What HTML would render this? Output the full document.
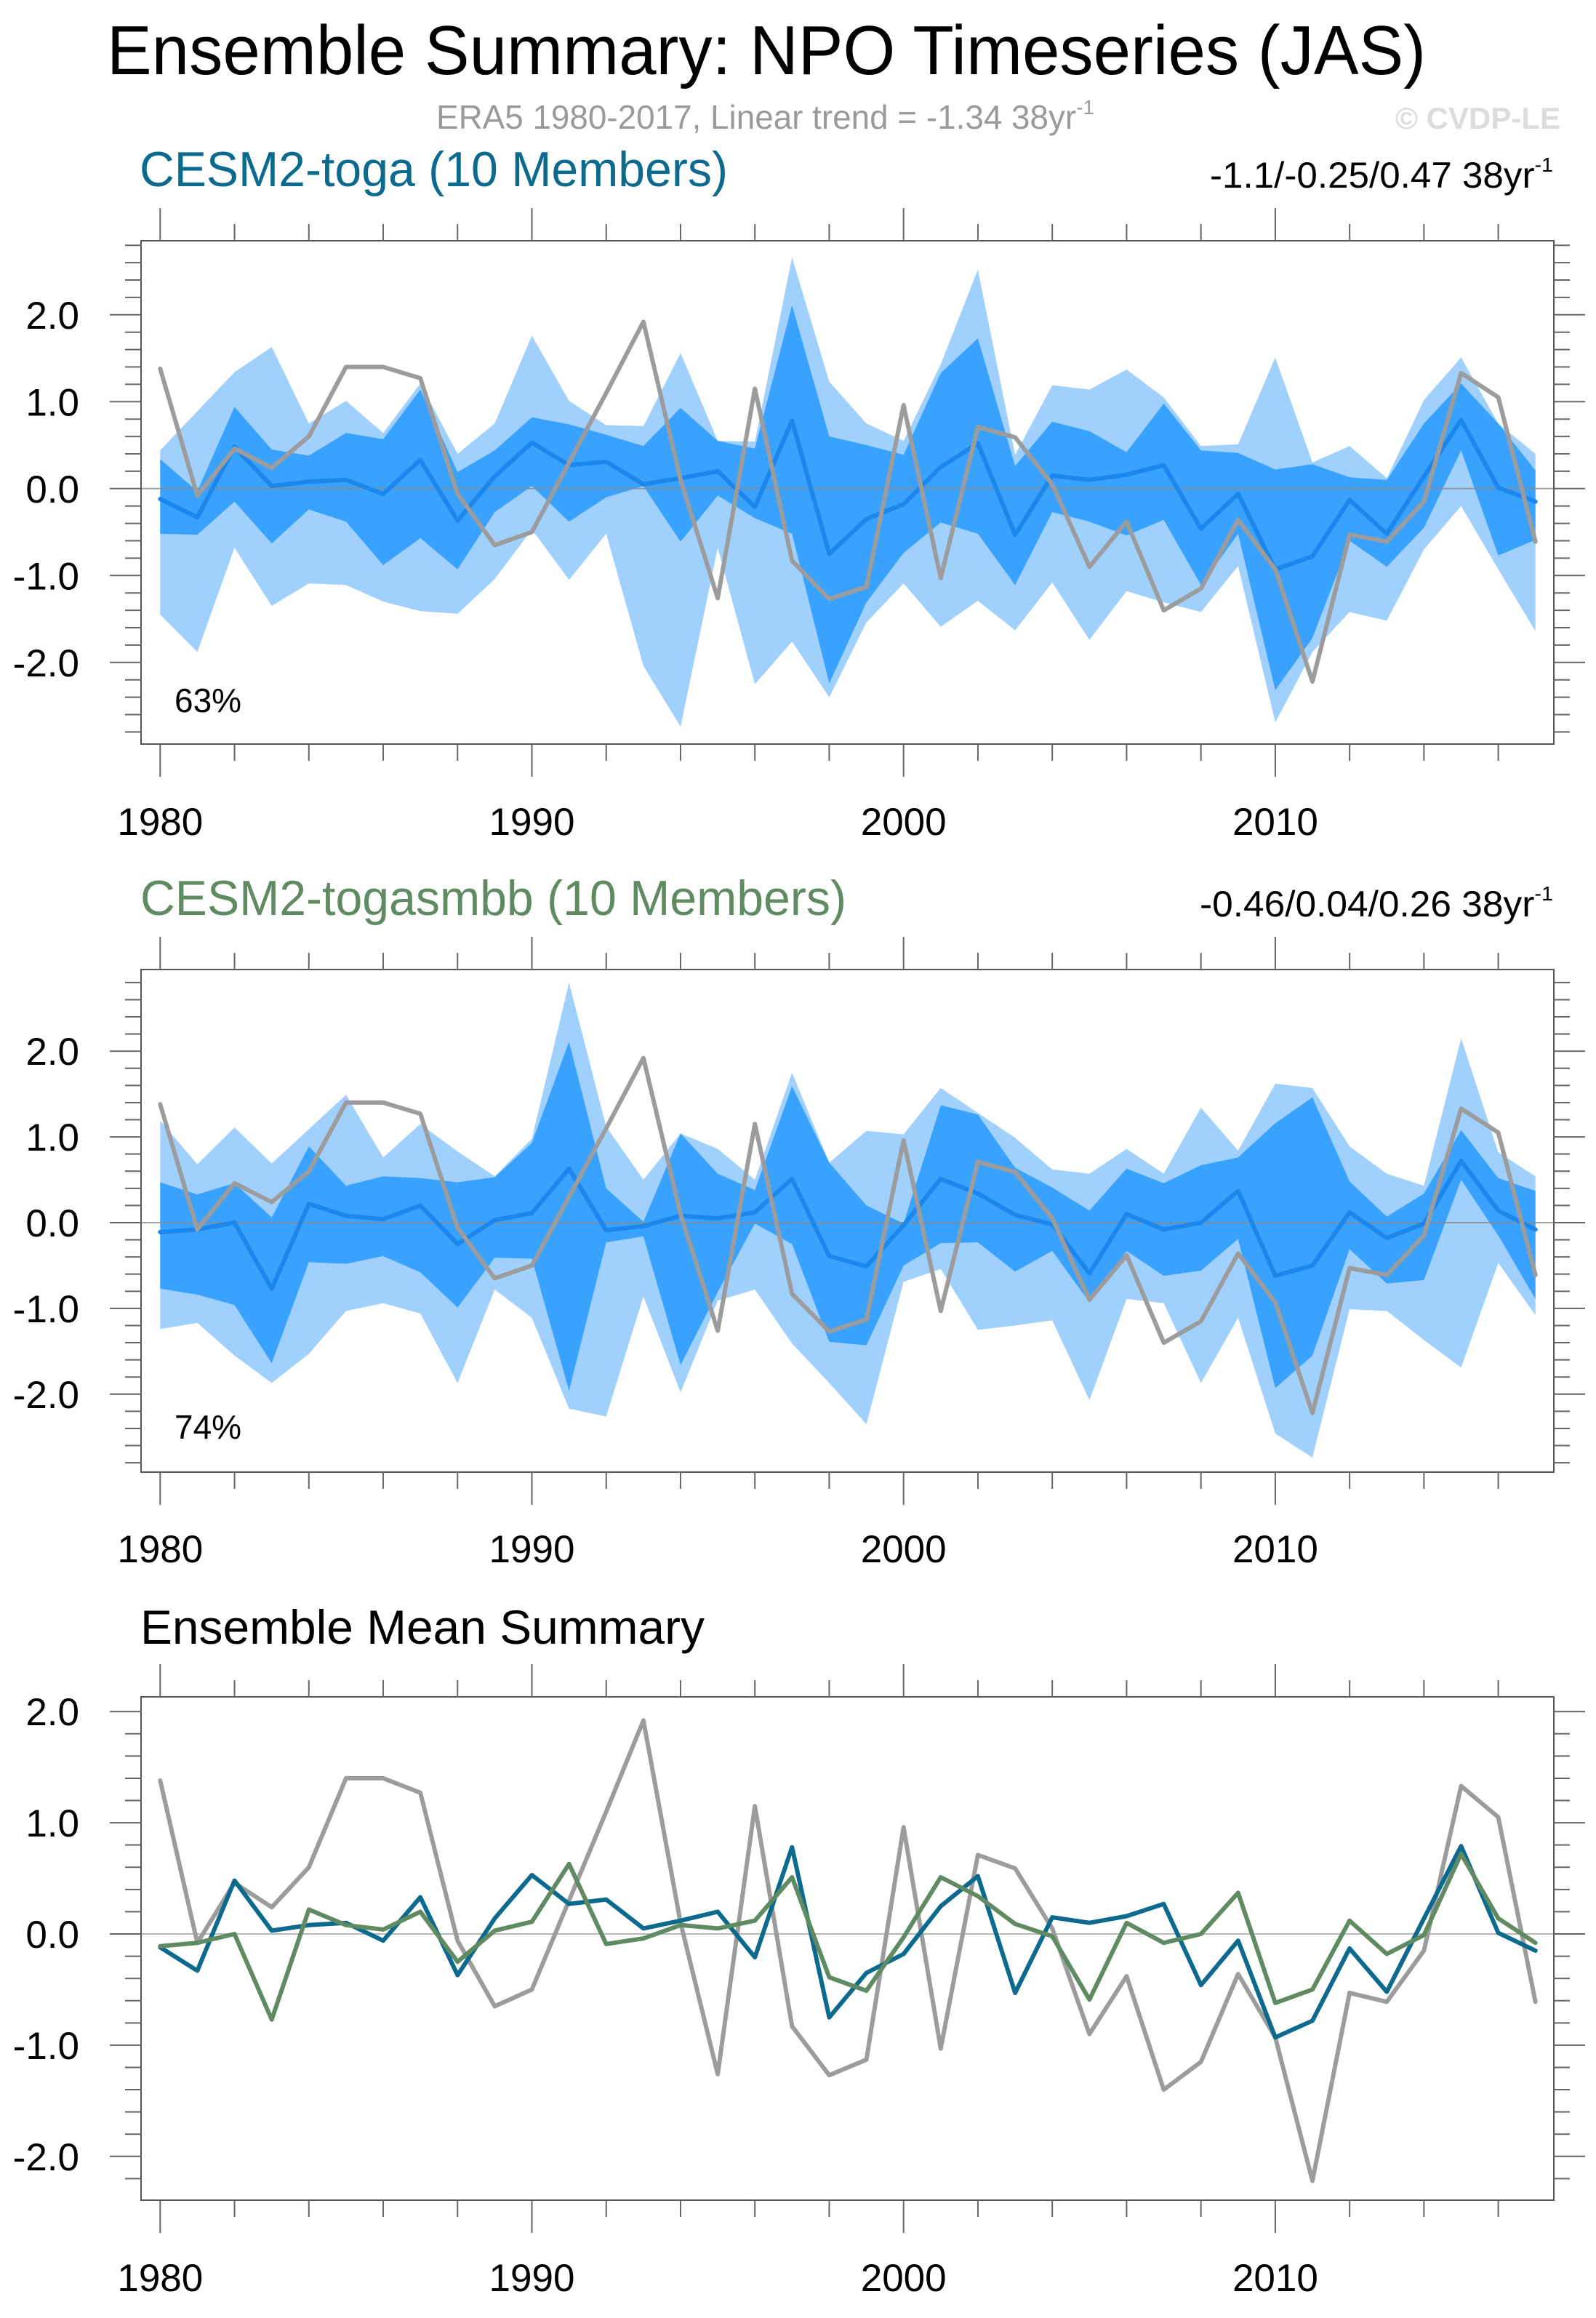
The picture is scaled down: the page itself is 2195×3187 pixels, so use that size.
<!DOCTYPE html>
<html><head><meta charset="utf-8"><title>Ensemble Summary: NPO Timeseries (JAS)</title>
<style>
html,body{margin:0;padding:0;background:#fff;}
svg{display:block;font-family:"Liberation Sans",Arial,sans-serif;}
</style></head>
<body>
<svg id="chart" width="2195" height="3187" viewBox="0 0 2195 3187" xmlns="http://www.w3.org/2000/svg">
  <rect x="0" y="0" width="2195" height="3187" fill="#fff"/>
  <text x="147" y="102" font-size="96" fill="#000" textLength="1814" lengthAdjust="spacingAndGlyphs">Ensemble Summary: NPO Timeseries (JAS)</text>
  <text x="600" y="177" font-size="46" fill="#9a9a9a" textLength="905" lengthAdjust="spacingAndGlyphs">ERA5 1980-2017, Linear trend = -1.34 38yr<tspan font-size="28" dy="-20">-1</tspan></text>
  <text x="2146" y="177" font-size="42" font-weight="bold" fill="#dcdcdc" text-anchor="end">© CVDP-LE</text>

  <text x="192" y="256" font-size="68" fill="#0b6a8e" textLength="809" lengthAdjust="spacingAndGlyphs">CESM2-toga (10 Members)</text>
  <text x="1664" y="258" font-size="50" fill="#000" textLength="472" lengthAdjust="spacingAndGlyphs">-1.1/-0.25/0.47 38yr<tspan font-size="28" dy="-22">-1</tspan></text>

  <text x="193" y="1258" font-size="68" fill="#5f8a62" textLength="971" lengthAdjust="spacingAndGlyphs">CESM2-togasmbb (10 Members)</text>
  <text x="1650" y="1260" font-size="50" fill="#000" textLength="486" lengthAdjust="spacingAndGlyphs">-0.46/0.04/0.26 38yr<tspan font-size="28" dy="-22">-1</tspan></text>

  <text x="193" y="2260" font-size="66" fill="#000" textLength="776" lengthAdjust="spacingAndGlyphs">Ensemble Mean Summary</text>
  <g id="plots"></g>
</svg>
<script>
const years = [1980,1981,1982,1983,1984,1985,1986,1987,1988,1989,1990,1991,1992,1993,1994,1995,1996,1997,1998,1999,2000,2001,2002,2003,2004,2005,2006,2007,2008,2009,2010,2011,2012,2013,2014,2015,2016,2017];
const obs = [1.38,-0.08,0.46,0.24,0.60,1.40,1.40,1.27,-0.06,-0.65,-0.50,0.30,1.10,1.92,0.10,-1.26,1.15,-0.83,-1.27,-1.13,0.96,-1.03,0.71,0.59,0.05,-0.90,-0.38,-1.40,-1.15,-0.36,-0.93,-2.22,-0.53,-0.61,-0.15,1.33,1.05,-0.61];
const togaMean = [-0.12,-0.33,0.48,0.03,0.08,0.10,-0.06,0.33,-0.37,0.14,0.53,0.27,0.31,0.05,0.12,0.20,-0.21,0.78,-0.75,-0.35,-0.18,0.25,0.52,-0.53,0.15,0.10,0.16,0.27,-0.46,-0.06,-0.93,-0.78,-0.13,-0.52,0.14,0.79,0.01,-0.15];
const togaDarkHi = [0.34,-0.03,0.94,0.45,0.38,0.64,0.57,1.14,0.19,0.44,0.82,0.74,0.62,0.49,0.93,0.55,0.46,2.11,0.60,0.50,0.39,1.33,1.73,0.26,0.77,0.66,0.42,0.98,0.44,0.41,0.22,0.28,0.13,0.10,0.75,1.21,0.75,0.21];
const togaDarkLo = [-0.52,-0.53,-0.15,-0.63,-0.24,-0.38,-0.88,-0.57,-0.93,-0.27,0.03,-0.38,-0.10,0.03,-0.61,-0.08,-0.34,-0.52,-2.24,-1.31,-0.74,-0.39,-0.52,-1.11,-0.27,-0.38,-0.54,-0.36,-1.11,-0.52,-2.32,-1.72,-0.60,-0.90,-0.45,0.44,-0.77,-0.59];
const togaLightHi = [0.44,0.89,1.34,1.63,0.75,1.01,0.64,1.21,0.40,0.75,1.76,1.01,0.73,0.72,1.56,0.55,0.54,2.66,1.23,0.75,0.55,1.43,2.52,0.39,1.19,1.14,1.37,1.05,0.49,0.51,1.51,0.30,0.49,0.12,1.02,1.51,0.75,0.40];
const togaLightLo = [-1.45,-1.88,-0.68,-1.35,-1.09,-1.11,-1.30,-1.41,-1.44,-1.04,-0.47,-1.05,-0.52,-2.04,-2.74,-0.68,-2.25,-1.76,-2.40,-1.54,-1.09,-1.59,-1.29,-1.63,-1.08,-1.74,-1.18,-1.31,-1.42,-0.89,-2.69,-1.88,-1.42,-1.52,-0.70,-0.20,-0.93,-1.64];
const smbbMean = [-0.11,-0.08,0.00,-0.77,0.22,0.08,0.04,0.20,-0.25,0.03,0.11,0.63,-0.09,-0.04,0.08,0.05,0.12,0.51,-0.39,-0.51,-0.03,0.51,0.34,0.09,-0.02,-0.59,0.10,-0.08,0.00,0.37,-0.62,-0.50,0.12,-0.18,-0.01,0.72,0.14,-0.08];
const smbbDarkHi = [0.47,0.33,0.46,0.06,0.89,0.43,0.54,0.52,0.47,0.53,0.93,2.11,0.40,0.01,1.04,0.57,0.38,1.59,0.70,0.20,-0.01,1.37,1.26,0.64,0.41,0.14,0.63,0.46,0.67,0.76,1.16,1.46,0.48,0.07,0.34,1.08,0.52,0.37];
const smbbDarkLo = [-0.77,-0.84,-0.96,-1.64,-0.46,-0.48,-0.39,-0.58,-0.99,-0.41,-0.42,-1.96,-0.23,-0.16,-1.66,-0.81,-0.01,-0.25,-1.39,-1.43,-0.50,-0.24,-0.23,-0.57,-0.33,-0.93,-0.33,-0.62,-0.56,-0.19,-1.93,-1.55,-0.31,-0.71,-0.67,0.50,-0.15,-0.89];
const smbbLightHi = [1.19,0.68,1.11,0.69,1.09,1.49,0.76,1.15,0.83,0.54,0.98,2.80,1.12,0.50,1.04,0.86,0.50,1.75,0.70,1.07,1.03,1.57,1.28,0.99,0.62,0.57,0.86,0.57,1.34,0.84,1.62,1.57,0.89,0.57,0.43,2.15,0.82,0.54];
const smbbLightLo = [-1.24,-1.17,-1.55,-1.87,-1.53,-1.03,-0.94,-1.06,-1.87,-0.78,-1.11,-2.17,-2.26,-0.86,-1.98,-0.91,-0.78,-1.41,-1.87,-2.35,-0.69,-0.54,-1.25,-1.20,-1.14,-2.07,-0.89,-0.94,-1.87,-1.11,-2.46,-2.74,-1.01,-1.03,-1.37,-1.69,-0.47,-1.08];
const yTickLabels = ["-2.0","-1.0","0.0","1.0","2.0"];
const yTickValues = [-2,-1,0,1,2];
const xTickLabels = ["1980","1990","2000","2010"];
const xTickValues = [1980,1990,2000,2010];
const pctLabels = ["63%","74%"];

const NS = "http://www.w3.org/2000/svg";
const root = document.getElementById("plots");
function mk(tag, attrs, parent){
  const e = document.createElementNS(NS, tag);
  for (const k in attrs) e.setAttribute(k, attrs[k]);
  (parent||root).appendChild(e);
  return e;
}
const X0 = 194, X1 = 2137;
function xScale(yr){ return 220.3 + (yr - 1980) * 51.12; }

function panel(cfg){
  const g = mk("g", {});
  
  
  const yS = v => cfg.y0 - v * cfg.ppu;
  const vTop = (cfg.y0 - cfg.top) / cfg.ppu, vBot = (cfg.y0 - cfg.bot) / cfg.ppu;
  const ptsOf = arr => arr.map((v,i)=> xScale(years[i]).toFixed(1)+","+yS(v).toFixed(1));
  if (cfg.bands){
    cfg.bands.forEach(b=>{
      const p = mk("polygon", {points: ptsOf(b.hi).concat(ptsOf(b.lo).reverse()).join(" "), fill: b.color}, g);
      
      
    });
  }
  const z = mk("line", {x1:X0, x2:X1, y1:yS(0), y2:yS(0), stroke:"#8a8a8a", "stroke-width":2, opacity:cfg.zeroOp||0.8}, g);
  
  
  cfg.lines.forEach(l=>{
    const pl = mk("polyline", {points: ptsOf(l.vals).join(" "), fill:"none", stroke:l.color, "stroke-width":6, "stroke-linejoin":"round", "stroke-linecap":"round"}, g);
    
    
  });
  const fr = mk("rect", {x:X0, y:cfg.top, width:X1-X0, height:cfg.bot-cfg.top, fill:"none", stroke:"#555", "stroke-width":2}, g);
  
  
  for (let k = Math.ceil(vBot*5); k <= Math.floor(vTop*5); k++){
    const v = k/5, y = yS(v), major = (k % 5 === 0);
    const len = major ? 43 : 22;
    const t1 = mk("line", {x1:X0-len, x2:X0, y1:y, y2:y, stroke:"#666", "stroke-width":2}, g);
    
    
    const t2 = mk("line", {x1:X1, x2:X1+len, y1:y, y2:y, stroke:"#666", "stroke-width":2}, g);
    
    
  }
  yTickValues.forEach((v,i)=>{
    if (v < vBot || v > vTop) return;
    const t = mk("text", {x:109, y:yS(v)+19, "font-size":53, "text-anchor":"end", fill:"#000"}, g);
    t.textContent = yTickLabels[i];
    
    
  });
  for (let yr = 1980; yr <= 2016; yr += 2){
    const x = xScale(yr), major = (yr % 10 === 0);
    const len = major ? 45 : 23;
    const a = mk("line", {x1:x, x2:x, y1:cfg.top-len, y2:cfg.top, stroke:"#666", "stroke-width":2}, g);
    
    
    const b = mk("line", {x1:x, x2:x, y1:cfg.bot, y2:cfg.bot+len, stroke:"#666", "stroke-width":2}, g);
    
    
  }
  xTickValues.forEach((yr,i)=>{
    const t = mk("text", {x:xScale(yr), y:cfg.labelY, "font-size":53, "text-anchor":"middle", fill:"#000"}, g);
    t.textContent = xTickLabels[i];
    
    
  });
  if (cfg.pct){
    const t = mk("text", {x:240, y:cfg.pctY, "font-size":46, fill:"#000"}, g);
    t.textContent = cfg.pct;
    
    
  }
}
const LIGHT = "#a0d1fe", DARK = "#39a1fe", MEANC = "#1b87ec", GRAY = "#9c9c9c";
panel({name:"toga-panel", top:331, bot:1023, y0:671.8, ppu:119.5, labelY:1148, pct:pctLabels[0], pctY:979,
  bands:[{hi:togaLightHi, lo:togaLightLo, color:LIGHT, name:"toga-outer-spread"},{hi:togaDarkHi, lo:togaDarkLo, color:DARK, name:"toga-inner-spread"}],
  lines:[{vals:togaMean, color:MEANC, name:"toga-ensemble-mean"},{vals:obs, color:GRAY, name:"era5-observed"}]});
panel({name:"togasmbb-panel", top:1333, bot:2024, y0:1681, ppu:117.9, labelY:2148, pct:pctLabels[1], pctY:1978,
  bands:[{hi:smbbLightHi, lo:smbbLightLo, color:LIGHT, name:"togasmbb-outer-spread"},{hi:smbbDarkHi, lo:smbbDarkLo, color:DARK, name:"togasmbb-inner-spread"}],
  lines:[{vals:smbbMean, color:MEANC, name:"togasmbb-ensemble-mean"},{vals:obs, color:GRAY, name:"era5-observed"}]});
panel({name:"ensemble-mean-panel", top:2333, bot:3025, y0:2659, ppu:152.9, labelY:3150, zeroOp:0.6,
  lines:[{vals:obs, color:GRAY, name:"era5-observed"},{vals:togaMean, color:"#0b6a8e", name:"toga-mean-line"},{vals:smbbMean, color:"#5f8a62", name:"togasmbb-mean-line"}]});
</script>
</body></html>
